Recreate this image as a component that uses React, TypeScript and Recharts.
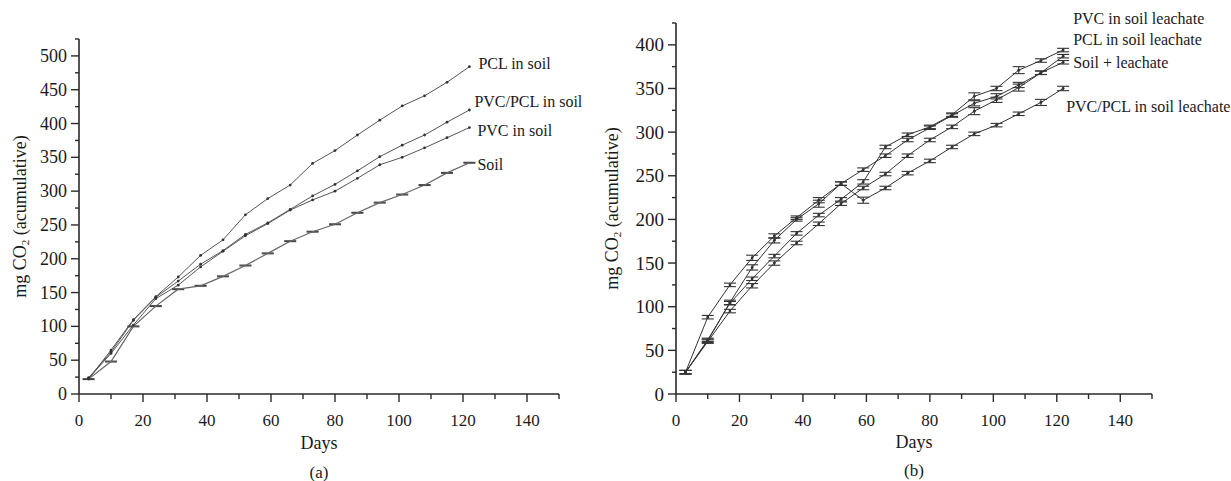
import { LineChart, Line, XAxis, YAxis, ErrorBar, Label } from 'recharts';

// sampling days (weekly)
const days = [3, 10, 17, 24, 31, 38, 45, 52, 59, 66, 73, 80, 87, 94, 101, 108, 115, 122];

// (a) soil
const pclSoil = [22, 65, 110, 144, 173, 205, 228, 265, 289, 309, 341, 360, 383, 405, 426, 441, 461, 484];
const pvcPclSoil = [24, 62, 109, 143, 167, 192, 212, 236, 253, 273, 293, 310, 330, 351, 368, 383, 402, 420];
const pvcSoil = [23, 60, 102, 141, 161, 188, 211, 234, 252, 272, 287, 300, 319, 339, 350, 364, 379, 394];
const soil = [22, 48, 100, 130, 155, 160, 174, 190, 208, 226, 240, 251, 268, 283, 295, 309, 327, 342];
const soilErr = [0.6, 0.6, 0.6, 0.6, 0.6, 0.6, 0.6, 0.6, 0.6, 0.6, 0.6, 0.6, 0.6, 0.6, 0.6, 0.6, 0.6, 0.6];

// (b) soil leachate
const pvcLeach = [25, 62, 104, 132, 158, 184, 205, 223, 243, 283, 297, 306, 320, 341, 350, 371, 382, 394];
const pvcLeachErr = [2, 2, 2, 2, 2, 2, 2, 2, 2.5, 2, 2, 2, 2, 4, 2.5, 4, 2, 2];
const pclLeach = [25, 61, 105, 145, 176, 200, 218, 241, 257, 273, 291, 305, 319, 333, 341, 354, 368, 387];
const pclLeachErr = [2, 2, 2.5, 3, 3, 2, 4, 2, 2, 2, 2, 2, 2, 3, 3, 3, 2, 2];
const soilLeach = [25, 60, 95, 124, 150, 173, 195, 218, 236, 252, 273, 291, 306, 324, 337, 351, 368, 380];
const soilLeachErr = [2, 2, 2, 2.5, 2.5, 2, 2, 2, 2, 2, 2, 2, 2, 4, 3, 4, 2, 2];
const pvcPclLeach = [25, 88, 125, 156, 181, 202, 222, 241, 222, 236, 253, 267, 283, 298, 308, 321, 334, 350];
const pvcPclLeachErr = [2, 2, 2, 3, 2.5, 2, 3, 2, 3.5, 2, 2, 2, 2, 2, 2, 2, 3.5, 2.5];

const xTicks = [0, 10, 20, 30, 40, 50, 60, 70, 80, 90, 100, 110, 120, 130, 140, 150];
const yTicksA = [0, 25, 50, 75, 100, 125, 150, 175, 200, 225, 250, 275, 300, 325, 350, 375, 400, 425, 450, 475, 500, 525];
const yTicksB = [0, 25, 50, 75, 100, 125, 150, 175, 200, 225, 250, 275, 300, 325, 350, 375, 400, 425];

const dataA = days.map((day, i) => ({
  day,
  pclSoil: pclSoil[i],
  pvcPclSoil: pvcPclSoil[i],
  pvcSoil: pvcSoil[i],
  soil: soil[i],
  soilErr: soilErr[i],
}));

const dataB = days.map((day, i) => ({
  day,
  pvcLeach: pvcLeach[i],
  pvcLeachErr: pvcLeachErr[i],
  pclLeach: pclLeach[i],
  pclLeachErr: pclLeachErr[i],
  soilLeach: soilLeach[i],
  soilLeachErr: soilLeachErr[i],
  pvcPclLeach: pvcPclLeach[i],
  pvcPclLeachErr: pvcPclLeachErr[i],
}));

const FONT = '"Liberation Serif", "Times New Roman", serif';
const AXIS = '#2a2a2a';
const TEXT = '#1a1a1a';

const YTick = (props: any) => {
  const { x, y, payload, fontSize } = props;
  const major = payload.value % 50 === 0;
  return (
    <g>
      <line x1={x - (major ? 8 : 4)} x2={x} y1={y} y2={y} stroke={AXIS} strokeWidth={1.4} />
      {major && (
        <text x={x - 12} y={y} textAnchor="end" dominantBaseline="central" fontFamily={FONT} fontSize={fontSize} fill={TEXT}>
          {payload.value}
        </text>
      )}
    </g>
  );
};

const XTick = (props: any) => {
  const { x, y, payload } = props;
  const major = payload.value % 20 === 0;
  return (
    <g>
      <line x1={x} x2={x} y1={y} y2={y + (major ? 8 : 5)} stroke={AXIS} strokeWidth={1.4} />
      {major && (
        <text x={x} y={y + 26} textAnchor="middle" dominantBaseline="central" fontFamily={FONT} fontSize={17} fill={TEXT}>
          {payload.value}
        </text>
      )}
    </g>
  );
};

const yLabel = (cx: number) => (props: any) => {
  const vb = props.viewBox;
  const cy = vb.y + vb.height / 2;
  return (
    <text
      x={cx}
      y={cy}
      transform={`rotate(-90, ${cx}, ${cy})`}
      textAnchor="middle"
      dominantBaseline="central"
      fontFamily={FONT}
      fontSize={18}
      fill={TEXT}
    >
      mg CO
      <tspan dy={5} fontSize={11}>2</tspan>
      <tspan dy={-5}> (acumulative)</tspan>
    </text>
  );
};

const xLabel = (tag: string, daysDy: number, tagDy: number) => (props: any) => {
  const vb = props.viewBox;
  const cx = vb.x + vb.width / 2;
  return (
    <g>
      <text x={cx} y={vb.y + daysDy} textAnchor="middle" dominantBaseline="central" fontFamily={FONT} fontSize={18} fill={TEXT}>
        Days
      </text>
      <text x={cx} y={vb.y + tagDy} textAnchor="middle" dominantBaseline="central" fontFamily={FONT} fontSize={17} fill={TEXT}>
        {tag}
      </text>
    </g>
  );
};

const endLabel = (text: string, dx: number, dy: number) => (props: any) => {
  if (props.index !== days.length - 1) return null;
  return (
    <text x={props.x + dx} y={props.y + dy} dominantBaseline="central" fontFamily={FONT} fontSize={16} fill={TEXT}>
      {text}
    </text>
  );
};

const smallDot = (props: any) => {
  const { cx, cy, index } = props;
  return <circle key={`d-${index}`} cx={cx} cy={cy} r={1.4} fill="#333" />;
};

export default function App() {
  return (
    <div style={{ position: 'absolute', left: 0, top: 0, width: 1231, height: 481, background: '#fff' }}>
      <div style={{ position: 'absolute', left: 0, top: 0 }}>
        <LineChart width={600} height={481} data={dataA} margin={{ top: 39, right: 41, bottom: 57, left: 0 }}>
          <XAxis
            dataKey="day"
            type="number"
            domain={[0, 150]}
            ticks={xTicks}
            interval={0}
            allowDataOverflow
            height={30}
            tickSize={0}
            tickMargin={0}
            tickLine={false}
            tick={XTick}
            axisLine={{ stroke: AXIS, strokeWidth: 1.6 }}
          >
            <Label content={xLabel('(a)', 49, 78)} />
          </XAxis>
          <YAxis
            type="number"
            domain={[0, 525]}
            ticks={yTicksA}
            interval={0}
            allowDataOverflow
            width={79}
            tickSize={0}
            tickMargin={0}
            tickLine={false}
            tick={(p: any) => <YTick {...p} fontSize={18} />}
            axisLine={{ stroke: AXIS, strokeWidth: 1.6 }}
          >
            <Label content={yLabel(20)} />
          </YAxis>
          <Line dataKey="pclSoil" stroke="#555" strokeWidth={1} dot={smallDot} isAnimationActive={false} label={endLabel('PCL in soil', 9, -3)} />
          <Line dataKey="pvcPclSoil" stroke="#555" strokeWidth={1} dot={smallDot} isAnimationActive={false} label={endLabel('PVC/PCL in soil', 5, -9)} />
          <Line dataKey="pvcSoil" stroke="#555" strokeWidth={1} dot={smallDot} isAnimationActive={false} label={endLabel('PVC in soil', 8, 3)} />
          <Line dataKey="soil" stroke="#666" strokeWidth={1.2} dot={false} isAnimationActive={false} label={endLabel('Soil', 8, 2)}>
            <ErrorBar dataKey="soilErr" width={6} strokeWidth={1.2} stroke="#444" direction="y" />
          </Line>
        </LineChart>
      </div>
      <div style={{ position: 'absolute', left: 590, top: 0 }}>
        <LineChart width={641} height={481} data={dataB} margin={{ top: 23, right: 79, bottom: 57, left: 0 }}>
          <XAxis
            dataKey="day"
            type="number"
            domain={[0, 150]}
            ticks={xTicks}
            interval={0}
            allowDataOverflow
            height={30}
            tickSize={0}
            tickMargin={0}
            tickLine={false}
            tick={XTick}
            axisLine={{ stroke: AXIS, strokeWidth: 1.6 }}
          >
            <Label content={xLabel('(b)', 48, 76)} />
          </XAxis>
          <YAxis
            type="number"
            domain={[0, 425]}
            ticks={yTicksB}
            interval={0}
            allowDataOverflow
            width={86}
            tickSize={0}
            tickMargin={0}
            tickLine={false}
            tick={(p: any) => <YTick {...p} fontSize={19} />}
            axisLine={{ stroke: AXIS, strokeWidth: 1.6 }}
          >
            <Label content={yLabel(22)} />
          </YAxis>
          <Line dataKey="pvcLeach" stroke="#333" strokeWidth={1} dot={smallDot} isAnimationActive={false} label={endLabel('PVC in soil leachate', 10, -32)}>
            <ErrorBar dataKey="pvcLeachErr" width={6} strokeWidth={1.1} stroke="#333" direction="y" />
          </Line>
          <Line dataKey="pclLeach" stroke="#333" strokeWidth={1} dot={smallDot} isAnimationActive={false} label={endLabel('PCL in soil leachate', 10, -17)}>
            <ErrorBar dataKey="pclLeachErr" width={6} strokeWidth={1.1} stroke="#333" direction="y" />
          </Line>
          <Line dataKey="soilLeach" stroke="#333" strokeWidth={1} dot={smallDot} isAnimationActive={false} label={endLabel('Soil + leachate', 10, 0)}>
            <ErrorBar dataKey="soilLeachErr" width={6} strokeWidth={1.1} stroke="#333" direction="y" />
          </Line>
          <Line dataKey="pvcPclLeach" stroke="#333" strokeWidth={1} dot={smallDot} isAnimationActive={false} label={endLabel('PVC/PCL in soil leachate', 3, 18)}>
            <ErrorBar dataKey="pvcPclLeachErr" width={6} strokeWidth={1.1} stroke="#333" direction="y" />
          </Line>
        </LineChart>
      </div>
    </div>
  );
}
